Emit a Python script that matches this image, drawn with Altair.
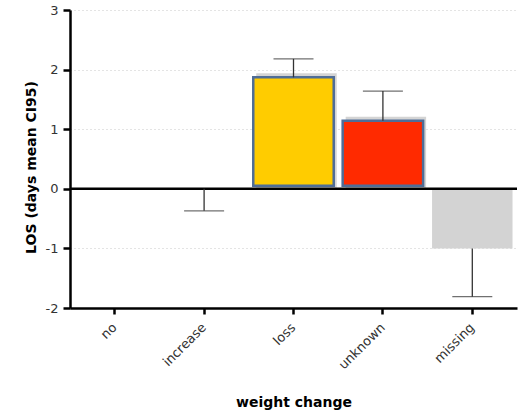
import altair as alt
import pandas as pd

categories = ["no", "increase", "loss", "unknown", "missing"]
means = [0.0, 0.0, 1.87, 1.14, -1.0]
err_ends = [None, -0.37, 2.18, 1.64, -1.81]
fills = ["#FFFFFF", "#FFFFFF", "#FFCC00", "#FF2A00", "#D3D3D3"]

df = pd.DataFrame({"cat": categories, "mean": means, "err": err_ends, "fill": fills})

font = "DejaVu Sans"

x_enc = alt.X(
    "cat:N",
    sort=categories,
    scale=alt.Scale(domain=categories, paddingInner=0.1, paddingOuter=0.05),
    axis=alt.Axis(
        title="weight change",
        labelAngle=-45,
        labelAlign="right",
        labelBaseline="middle",
        labelPadding=11,
        tickSize=6,
        grid=False,
        titleY=98,
        titleBaseline="alphabetic",
    ),
)
y_scale = alt.Scale(domain=[-2, 3], nice=False, zero=False)
y_enc = alt.Y(
    "mean:Q",
    scale=y_scale,
    axis=alt.Axis(
        title="LOS (days mean CI95)",
        values=[-2, -1, 0, 1, 2, 3],
        labelExpr="'' + datum.value",
        tickSize=7,
        labelPadding=5,
        titleX=-39,
        titleY=157,
        titleBaseline="middle",
        gridDash=[1, 3],
        gridColor="#c8c8c8",
        gridWidth=1,
    ),
)

base = alt.Chart(df)

shadow = base.transform_filter(
    alt.FieldOneOfPredicate(field="cat", oneOf=["loss", "unknown"])
).mark_bar(color="#d4d4d4", xOffset=3, yOffset=-4, y2Offset=-1).encode(
    x=x_enc, y=y_enc, y2=alt.datum(0)
)

color_bars = base.transform_filter(
    alt.FieldOneOfPredicate(field="cat", oneOf=["loss", "unknown"])
).mark_bar(stroke="#4F6D97", strokeWidth=2.5, y2Offset=-3).encode(
    x=x_enc,
    y=y_enc,
    y2=alt.datum(0),
    fill=alt.Fill("fill:N", scale=None),
)

gray_bar = base.transform_filter(
    alt.FieldEqualPredicate(field="cat", equal="missing")
).mark_bar(color="#D3D3D3").encode(x=x_enc, y=y_enc, y2=alt.datum(0))

err_rule = base.transform_filter("isValid(datum.err)").mark_rule(
    color="#333333", strokeWidth=1.3
).encode(x=x_enc, y=alt.Y("mean:Q", scale=y_scale), y2="err:Q")

err_cap = base.transform_filter("isValid(datum.err)").mark_tick(
    color="#333333", thickness=1.3, size=40, orient="horizontal"
).encode(x=x_enc, y=alt.Y("err:Q", scale=y_scale))

zero_line = alt.Chart(pd.DataFrame({"z": [0]})).mark_rule(
    color="black", strokeWidth=2.5
).encode(y=alt.Y("z:Q", scale=y_scale))

chart = alt.layer(
    shadow, color_bars, gray_bar, zero_line, err_rule, err_cap
).properties(
    width=447,
    height=298,
    autosize=alt.AutoSizeParams(type="none"),
    padding={"left": 70, "top": 10, "right": 1, "bottom": 106},
).configure_view(stroke=None).configure_axis(
    domainColor="black",
    domainWidth=2.5,
    tickColor="black",
    tickWidth=2.5,
    labelColor="#333333",
    labelFont=font,
    labelFontSize=13,
    titleFont=font,
    titleFontSize=14,
    titleFontWeight="bold",
    titleColor="black",
)

chart.save("out.html", embed_options={"renderer": "svg", "actions": False})
